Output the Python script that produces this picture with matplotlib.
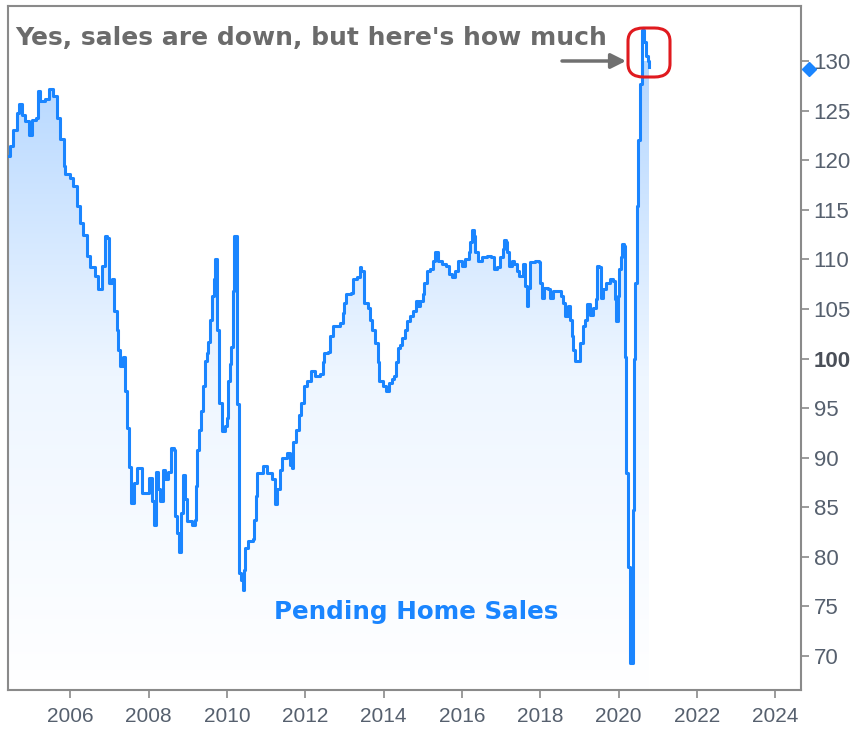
import numpy as np
import matplotlib
matplotlib.use("Agg")
import matplotlib.pyplot as plt
from matplotlib.patches import FancyBboxPatch, Polygon
from matplotlib.colors import LinearSegmentedColormap
import matplotlib.transforms as mtransforms

# Pending Home Sales index (decimal years)
years = [2004.42, 2004.47, 2004.55, 2004.64, 2004.70, 2004.77, 2004.85, 2004.94, 2005.02, 2005.13,
         2005.17, 2005.23, 2005.36, 2005.46, 2005.57, 2005.66, 2005.74, 2005.83, 2005.87, 2006.00,
         2006.08, 2006.17, 2006.26, 2006.34, 2006.43, 2006.51, 2006.64, 2006.72, 2006.81, 2006.88,
         2006.94, 2006.98, 2007.06, 2007.12, 2007.19, 2007.23, 2007.28, 2007.35, 2007.40, 2007.46,
         2007.51, 2007.55, 2007.63, 2007.70, 2007.83, 2007.96, 2008.02, 2008.09, 2008.13, 2008.20,
         2008.25, 2008.30, 2008.37, 2008.43, 2008.51, 2008.58, 2008.64, 2008.68, 2008.72, 2008.78,
         2008.83, 2008.88, 2008.94, 2008.98, 2009.11, 2009.19, 2009.22, 2009.25, 2009.30, 2009.34,
         2009.40, 2009.45, 2009.49, 2009.53, 2009.57, 2009.62, 2009.66, 2009.70, 2009.75, 2009.76,
         2009.80, 2009.87, 2009.96, 2010.00, 2010.02, 2010.07, 2010.10, 2010.15, 2010.19, 2010.26,
         2010.27, 2010.30, 2010.36, 2010.41, 2010.44, 2010.47, 2010.55, 2010.66, 2010.70, 2010.74,
         2010.78, 2010.92, 2011.02, 2011.15, 2011.23, 2011.29, 2011.36, 2011.40, 2011.53, 2011.60,
         2011.66, 2011.70, 2011.77, 2011.83, 2011.89, 2011.96, 2012.04, 2012.15, 2012.25, 2012.38,
         2012.45, 2012.48, 2012.59, 2012.64, 2012.71, 2012.89, 2012.96, 2013.00, 2013.04, 2013.17,
         2013.22, 2013.32, 2013.39, 2013.43, 2013.49, 2013.60, 2013.66, 2013.70, 2013.77, 2013.85,
         2013.89, 2013.98, 2014.07, 2014.13, 2014.21, 2014.27, 2014.32, 2014.36, 2014.42, 2014.48,
         2014.55, 2014.60, 2014.68, 2014.76, 2014.83, 2014.89, 2014.94, 2015.00, 2015.04, 2015.11,
         2015.19, 2015.26, 2015.32, 2015.40, 2015.49, 2015.60, 2015.66, 2015.74, 2015.83, 2015.91,
         2016.00, 2016.08, 2016.17, 2016.21, 2016.26, 2016.30, 2016.34, 2016.42, 2016.51, 2016.64,
         2016.74, 2016.81, 2016.89, 2016.98, 2017.04, 2017.08, 2017.13, 2017.16, 2017.21, 2017.28,
         2017.34, 2017.42, 2017.47, 2017.56, 2017.60, 2017.66, 2017.70, 2017.74, 2017.87, 2017.96,
         2018.00, 2018.04, 2018.11, 2018.19, 2018.25, 2018.32, 2018.42, 2018.53, 2018.59, 2018.64,
         2018.70, 2018.75, 2018.81, 2018.85, 2018.89, 2018.98, 2019.02, 2019.09, 2019.15, 2019.19,
         2019.26, 2019.36, 2019.42, 2019.46, 2019.51, 2019.55, 2019.61, 2019.68, 2019.79, 2019.85,
         2019.90, 2019.93, 2019.98, 2020.02, 2020.06, 2020.10, 2020.15, 2020.17, 2020.19, 2020.24,
         2020.30, 2020.36, 2020.40, 2020.42, 2020.47, 2020.51, 2020.55, 2020.59, 2020.65, 2020.70,
         2020.76, 2020.79]
sales = [120.4, 121.4, 123.0, 124.8, 125.7, 124.6, 124.0, 122.5, 124.1, 124.3,
         127.0, 126.0, 126.2, 127.2, 126.5, 124.3, 122.1, 119.4, 118.6, 118.2,
         117.4, 115.4, 113.7, 112.5, 110.3, 109.2, 108.3, 107.0, 109.3, 112.4,
         112.2, 107.6, 108.0, 104.8, 102.9, 100.9, 99.2, 100.2, 96.7, 93.0,
         89.1, 85.4, 87.4, 89.0, 86.4, 86.4, 87.9, 85.6, 83.2, 88.6,
         86.8, 85.6, 88.8, 87.8, 88.6, 91.0, 90.8, 84.1, 82.4, 80.5,
         84.4, 88.3, 85.8, 83.6, 83.2, 83.7, 87.1, 90.8, 92.8, 94.7,
         97.2, 99.7, 100.6, 101.7, 103.9, 106.3, 108.0, 110.0, 109.8, 102.9,
         95.5, 92.7, 93.2, 94.0, 97.7, 99.4, 101.2, 106.8, 112.4, 112.2,
         95.4, 78.4, 77.7, 76.7, 78.7, 80.9, 81.6, 81.8, 83.7, 86.1,
         88.5, 89.2, 88.5, 87.8, 85.3, 86.8, 88.8, 90.0, 90.5, 89.3,
         89.0, 91.6, 92.8, 94.3, 95.5, 97.2, 97.7, 98.7, 98.2, 98.4,
         99.6, 100.6, 100.7, 102.3, 103.3, 103.6, 104.6, 105.6, 106.5, 106.6,
         108.0, 108.2, 109.2, 108.8, 105.6, 105.1, 103.9, 102.9, 101.6, 99.6,
         97.7, 97.2, 96.7, 97.5, 97.9, 98.2, 99.6, 101.1, 101.4, 102.1,
         102.9, 103.8, 104.3, 104.8, 105.8, 105.3, 105.8, 106.5, 107.6, 108.8,
         109.0, 109.8, 110.7, 109.8, 109.5, 109.3, 108.5, 108.2, 108.8, 109.8,
         109.3, 110.0, 110.7, 111.7, 113.0, 112.4, 110.7, 109.8, 110.2, 110.3,
         110.2, 109.0, 109.2, 110.2, 111.0, 112.0, 111.7, 110.7, 109.3, 109.8,
         109.5, 108.8, 108.3, 109.5, 107.3, 105.3, 107.1, 109.7, 109.8, 109.7,
         107.6, 106.1, 107.1, 107.0, 106.1, 106.8, 106.8, 106.3, 105.6, 104.3,
         105.3, 103.9, 102.3, 100.9, 99.7, 99.7, 101.6, 103.3, 103.9, 105.5,
         104.4, 105.1, 106.0, 109.3, 109.2, 106.1, 107.0, 107.6, 108.0, 107.8,
         106.0, 103.8, 106.3, 109.0, 110.2, 111.5, 111.3, 100.2, 88.5, 79.0,
         69.3, 84.7, 99.9, 107.6, 115.4, 122.0, 127.7, 133.1, 131.9, 130.5,
         130.0, 129.4]

last_value = 129.2
tick_years = [2006, 2008, 2010, 2012, 2014, 2016, 2018, 2020, 2022, 2024]
tick_values = [70, 75, 80, 85, 90, 95, 100, 105, 110, 115, 120, 125, 130]

title_text = "Yes, sales are down, but here's how much"
series_label = "Pending Home Sales"

blue = "#1a85ff"
label_col = "#56606e"
spine_col = "#8a8a8a"

fig = plt.figure(figsize=(8.63, 7.3), dpi=100)
ax = fig.add_axes([0.0087, 0.0548, 0.9195, 0.9370])

xmin, xmax = 2004.40, 2024.66
ymin, ymax = 66.57, 135.55
ax.set_xlim(xmin, xmax)
ax.set_ylim(ymin, ymax)

x = np.array(years)
y = np.array(sales)

# step polygon for the gradient fill
xs = np.repeat(x, 2)[1:]
ys = np.repeat(y, 2)[:-1]
poly_pts = np.column_stack([np.r_[xs[0], xs, xs[-1]], np.r_[ymin, ys, ymin]])
poly = Polygon(poly_pts, closed=True, facecolor="none", edgecolor="none")
ax.add_patch(poly)

cmap = LinearSegmentedColormap.from_list("fade", ["#ffffff", "#eef6ff", "#b5d7ff"])
grad = np.linspace(0, 1, 256).reshape(-1, 1)
im = ax.imshow(grad, extent=[x[0], x[-1], ymin, 130], origin="lower", aspect="auto",
               cmap=cmap, zorder=1)
im.set_clip_path(poly)

ax.plot(x, y, drawstyle="steps-post", color=blue, lw=2.2, zorder=3)

# last value marker on the right edge
trans = mtransforms.blended_transform_factory(ax.transAxes, ax.transData)
ax.plot([1.01], [last_value], marker="D", color=blue, ms=7, transform=trans,
        clip_on=False, zorder=5)

ax.yaxis.tick_right()
ax.set_yticks(tick_values)
ax.set_yticklabels([str(v) for v in tick_values])
ax.set_xticks(tick_years)
ax.set_xticklabels([str(v) for v in tick_years])
ax.tick_params(axis="both", colors=spine_col, labelcolor=label_col, labelsize=16,
               length=6, width=1.2)
ax.tick_params(axis="y", pad=3)
ax.tick_params(axis="x", pad=6)
for lab in ax.get_xticklabels() + ax.get_yticklabels():
    lab.set_family(["Liberation Sans Narrow", "Liberation Sans", "DejaVu Sans"])
for lab in ax.get_xticklabels():
    lab.set_fontsize(15)
for lab in ax.get_yticklabels():
    if lab.get_text() == "100":
        lab.set_fontweight("bold")
        lab.set_color("#4a4f58")

for sp in ax.spines.values():
    sp.set_color(spine_col)
    sp.set_linewidth(1.5)

# headline
fig.text(15 / 863, 1 - 38 / 730, title_text, fontsize=18, fontweight="bold",
         color="#6b6b6b", ha="left", va="center", family="DejaVu Sans")

# series label
fig.text(416 / 863, 1 - 612 / 730, series_label, fontsize=17.7, fontweight="bold",
         color=blue, ha="center", va="center", family="DejaVu Sans")

# arrow pointing to the peak
ax.annotate("", xy=(626 / 863, 1 - 61 / 730), xytext=(562 / 863, 1 - 61 / 730),
            xycoords="figure fraction", textcoords="figure fraction",
            arrowprops=dict(arrowstyle="-|>,head_length=0.9,head_width=0.45",
                            color="#707070", lw=2.5, shrinkA=0, shrinkB=0))

# red rounded box around the peak
box = FancyBboxPatch((628 / 863, 1 - 77 / 730), 42 / 863, 49 / 730,
                     boxstyle="round,pad=0,rounding_size=0.018",
                     transform=fig.transFigure, facecolor="none",
                     edgecolor="#e01a1f", lw=2.2, zorder=6)
fig.patches.append(box)

fig.savefig("out.png", dpi=100)
